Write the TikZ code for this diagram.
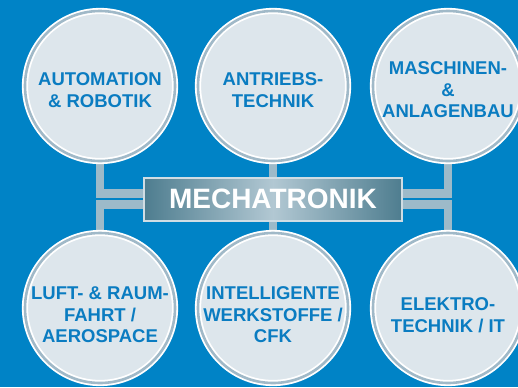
\documentclass[tikz,border=0pt]{standalone}
\usepackage{fontspec}
\setmainfont{Liberation Sans}
\usetikzlibrary{positioning,backgrounds}

\definecolor{bgblue}{HTML}{0083C6}
\definecolor{txtblue}{HTML}{0A7CC1}
\definecolor{circfill}{HTML}{DDE6EC}
\definecolor{ringgray}{HTML}{A0B9C8}
\definecolor{barcol}{HTML}{9DBAC9}
\definecolor{boxdark}{HTML}{4E7D8F}
\definecolor{boxlight}{HTML}{B2C8D3}
\definecolor{boxrim}{HTML}{D0DDE4}

\begin{document}
\begin{tikzpicture}[
    x=1bp, y=-1bp,
    field/.style={circle, inner sep=0pt, minimum size=150bp, fill=circfill, draw=white, double=ringgray, double distance=2.6bp, line width=1.8bp},
    lbl/.style={font=\bfseries\fontsize{18.5bp}{21.5bp}\selectfont, text=txtblue, align=center, yshift=-4bp},
    lowlbl/.style={lbl, yshift=-3bp},
    core/.style={rectangle, minimum width=258bp, minimum height=43bp, draw=boxrim, line width=2bp, left color=boxdark, right color=boxdark, middle color=boxlight, text=white, font=\bfseries\fontsize{28bp}{32bp}\selectfont},
    bar/.style={draw=barcol, line width=8.5bp}
]
\useasboundingbox (0,0) rectangle (518,387);

% Centre block
\node[core] (mech) at (273,199) {MECHATRONIK};

% Fields
\node[field, label={[lbl]center:{AUTOMATION\\ \& ROBOTIK}}] (auto) at (100,86) {};
\node[field, label={[lbl]center:{ANTRIEBS-\\ TECHNIK}}] (antr) at (273,86) {};
\node[field, label={[lbl]center:{MASCHINEN-\\ \&\\ ANLAGENBAU}}] (masch) at (448,86) {};
\node[field, label={[lowlbl]center:{LUFT- \& RAUM-\\ FAHRT /\\ AEROSPACE}}] (luft) at (100,308) {};
\node[field, label={[lowlbl]center:{INTELLIGENTE\\ WERKSTOFFE /\\ CFK}}] (intel) at (273,308) {};
\node[field, label={[lowlbl]center:{ELEKTRO-\\ TECHNIK / IT}}] (elek) at (448,308) {};

% Connectors behind the nodes
\begin{pgfonlayer}{background}
\fill[bgblue] (0,0) rectangle (518,387);
\draw[bar] (auto.south) |- ([yshift=5.5bp]mech.west);
\draw[bar] (luft.north) |- ([yshift=-5.5bp]mech.west);
\draw[bar] (masch.south) |- ([yshift=5.5bp]mech.east);
\draw[bar] (elek.north) |- ([yshift=-5.5bp]mech.east);
\draw[bar] (antr.south) -- (mech.north);
\draw[bar] (intel.north) -- (mech.south);
\end{pgfonlayer}
\end{tikzpicture}
\end{document}
